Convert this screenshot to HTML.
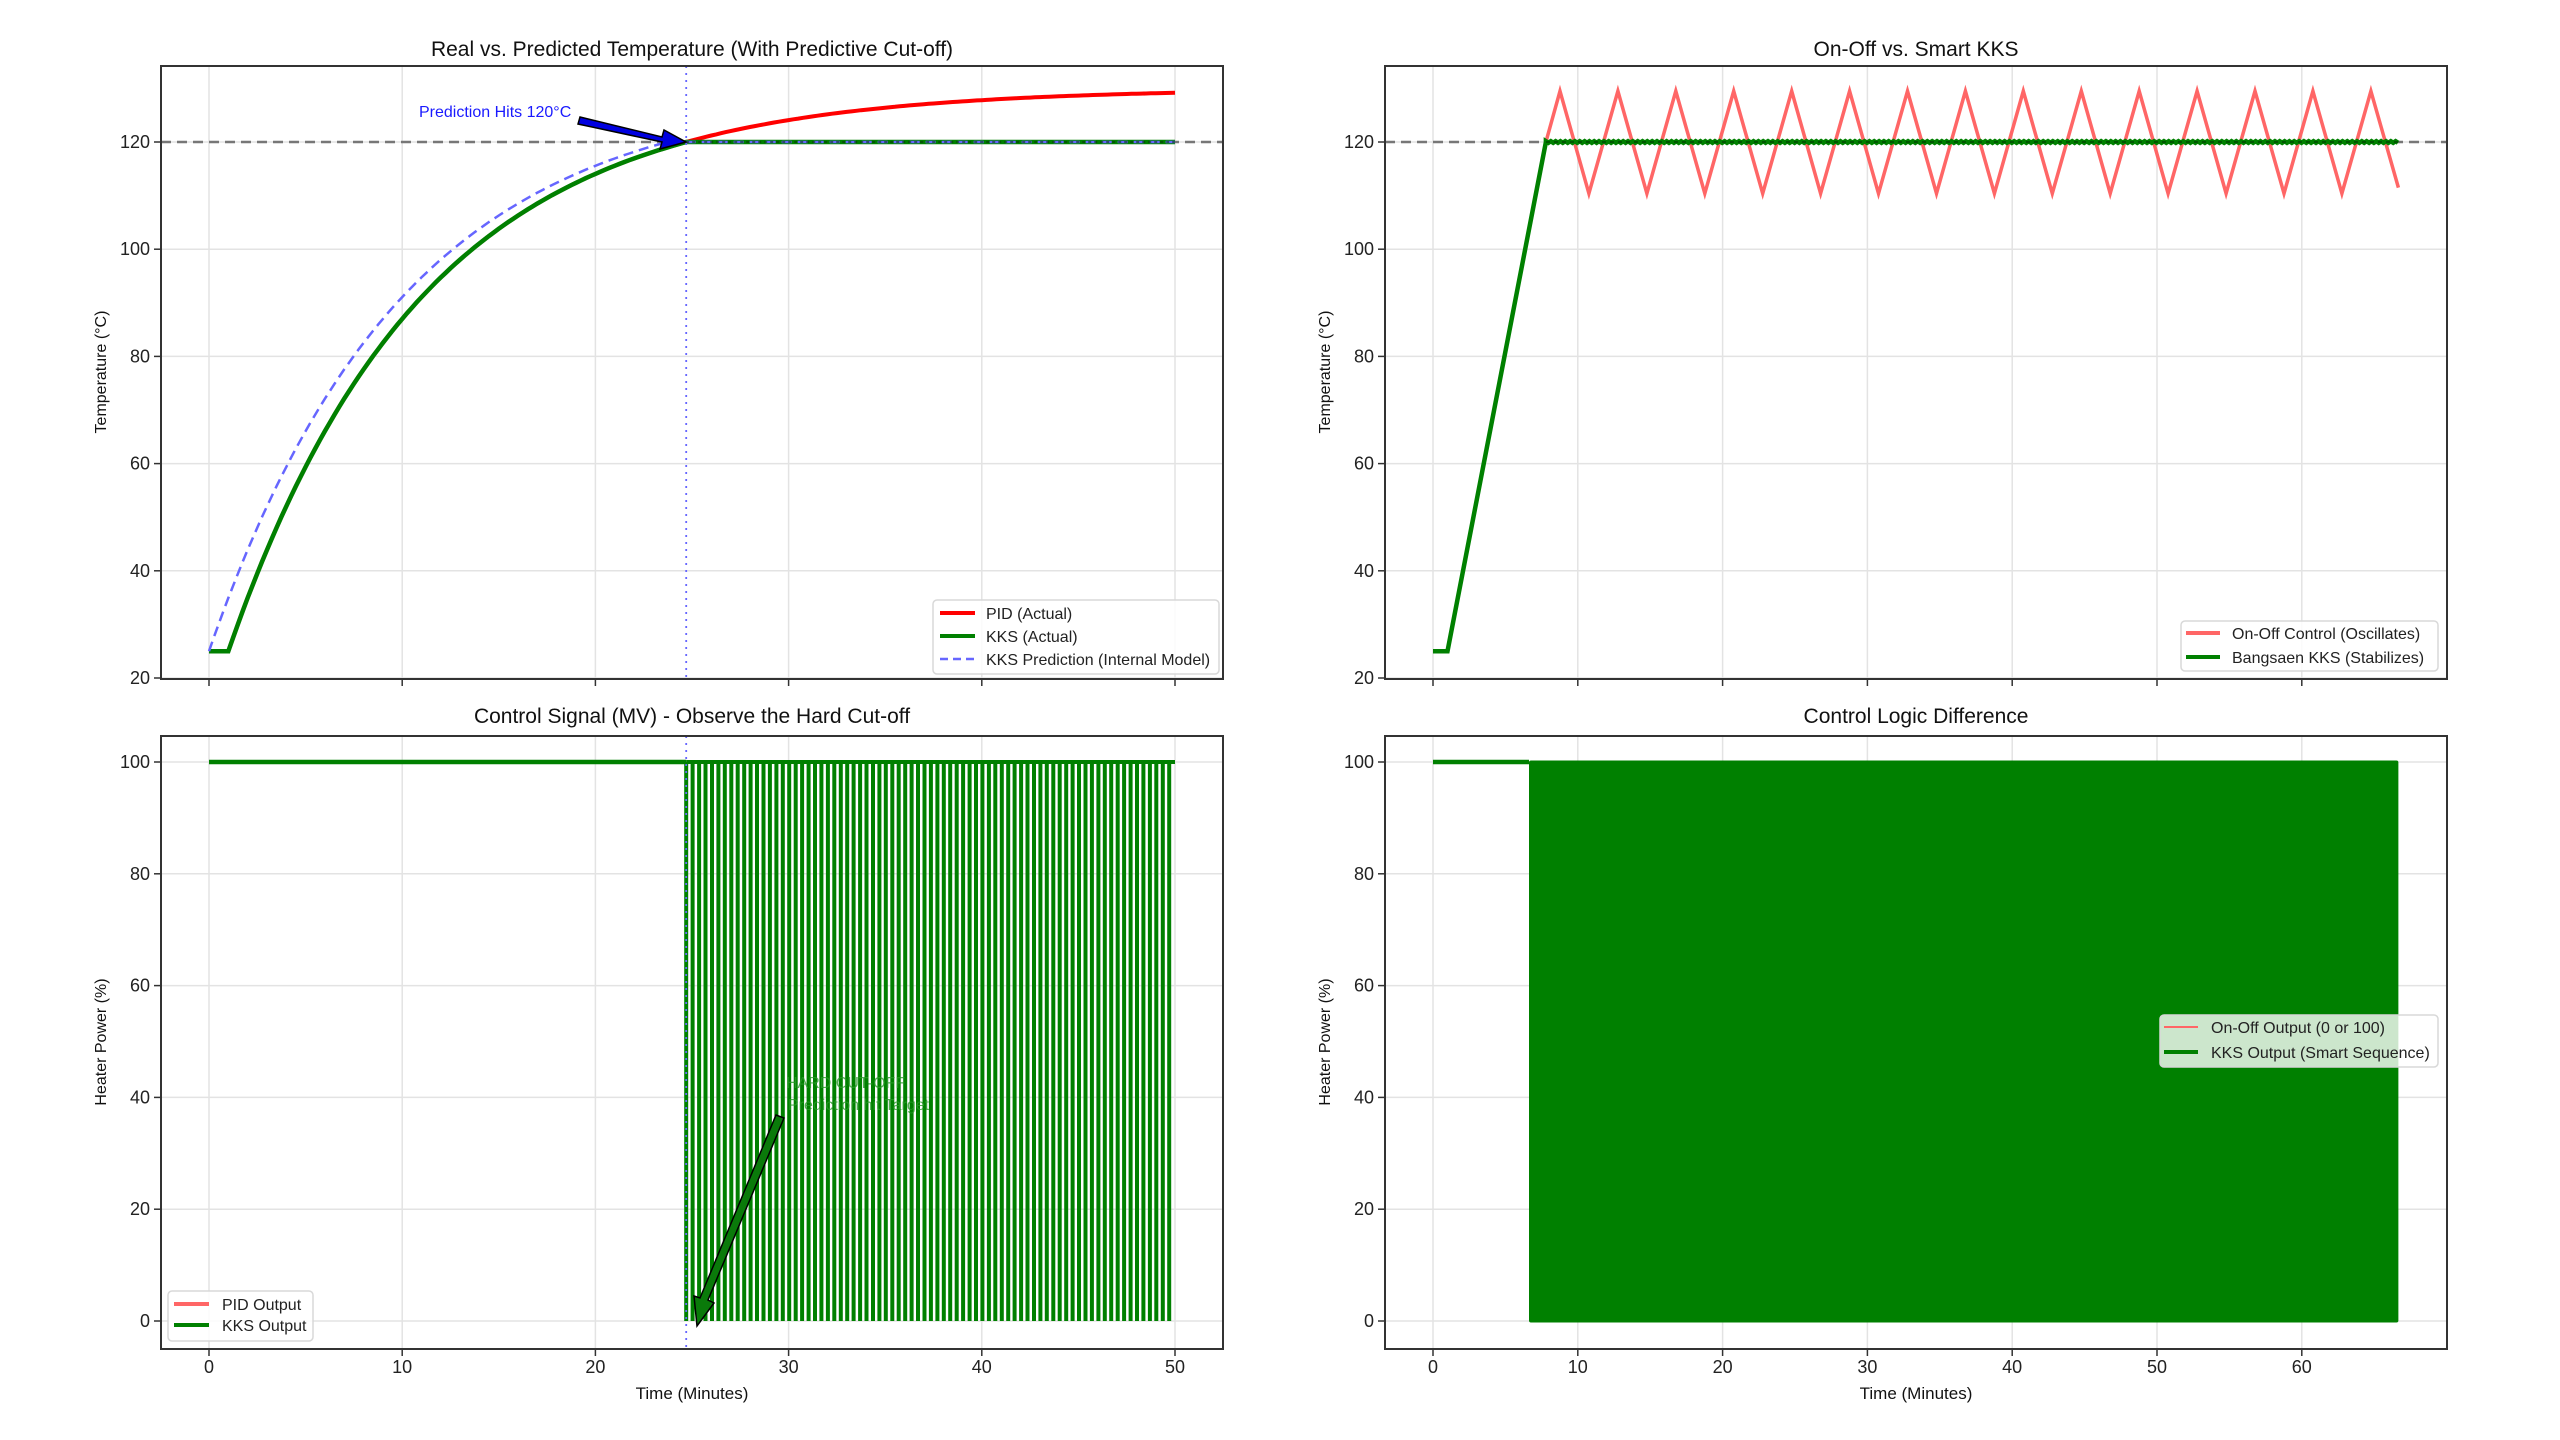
<!DOCTYPE html>
<html><head><meta charset="utf-8">
<style>
html,body{margin:0;padding:0;background:#fff;}
svg{display:block;font-family:"Liberation Sans",sans-serif;}
</style></head>
<body>
<svg id="s" width="2560" height="1440" viewBox="0 0 2560 1440" xmlns="http://www.w3.org/2000/svg">
<rect width="2560" height="1440" fill="#fff"/>
<g id="grid" stroke="#e3e3e3" stroke-width="1.5"></g>
<g id="data"></g>
<g id="axes" fill="none" stroke="#333" stroke-width="2">
<rect x="161" y="66" width="1062" height="613"/>
<rect x="1385" y="66" width="1062" height="613"/>
<rect x="161" y="736" width="1062" height="613"/>
<rect x="1385" y="736" width="1062" height="613"/>
</g>
<g id="ticks" stroke="#333" stroke-width="1.5"></g>
<g id="labels" fill="#222" font-size="18"></g>
<g font-size="21" fill="#111" text-anchor="middle">
<text x="692" y="56">Real vs. Predicted Temperature (With Predictive Cut-off)</text>
<text x="1916" y="56">On-Off vs. Smart KKS</text>
<text x="692" y="723">Control Signal (MV) - Observe the Hard Cut-off</text>
<text x="1916" y="723">Control Logic Difference</text>
<text x="692" y="1399" font-size="17">Time (Minutes)</text>
<text x="1916" y="1399" font-size="17">Time (Minutes)</text>
</g>
<g font-size="16" fill="#111" text-anchor="middle">
<text transform="translate(106,372) rotate(-90)">Temperature (°C)</text>
<text transform="translate(1330,372) rotate(-90)">Temperature (°C)</text>
<text transform="translate(106,1042) rotate(-90)">Heater Power (%)</text>
<text transform="translate(1330,1042) rotate(-90)">Heater Power (%)</text>
</g>
<text x="419" y="117" font-size="16" fill="#1a1aff">Prediction Hits 120°C</text>
<path d="M580,117 L662,137 L664,130 L686,142 L660,149 L662,142 L578,124 Z" fill="#0000e0" stroke="#000" stroke-width="1.5"/>
<text x="786" y="1088" font-size="16" fill="#2a9a2a" opacity="0.8">HARD CUT-OFF</text>
<text x="788" y="1110" font-size="16" fill="#2a9a2a" opacity="0.8">Prediction hit Target</text>
<g id="ann2"></g>
<g font-size="16" fill="#222">
<rect x="933" y="600" width="286" height="74" rx="4" fill="#fff" fill-opacity="0.85" stroke="#d8d8d8" stroke-width="1.5"/>
<line x1="940" y1="613" x2="975" y2="613" stroke="red" stroke-width="4"/>
<line x1="940" y1="636" x2="975" y2="636" stroke="#008000" stroke-width="4"/>
<line x1="940" y1="659" x2="975" y2="659" stroke="#6666ff" stroke-width="2.5" stroke-dasharray="8,5"/>
<text x="986" y="619">PID (Actual)</text>
<text x="986" y="642">KKS (Actual)</text>
<text x="986" y="665">KKS Prediction (Internal Model)</text>

<rect x="168" y="1291" width="145" height="50" rx="4" fill="#fff" fill-opacity="0.85" stroke="#d8d8d8" stroke-width="1.5"/>
<line x1="174" y1="1304" x2="209" y2="1304" stroke="#ff6666" stroke-width="4"/>
<line x1="174" y1="1325" x2="209" y2="1325" stroke="#008000" stroke-width="4"/>
<text x="222" y="1310">PID Output</text>
<text x="222" y="1331">KKS Output</text>

<rect x="2181" y="621" width="257" height="50" rx="4" fill="#fff" fill-opacity="0.85" stroke="#d8d8d8" stroke-width="1.5"/>
<line x1="2186" y1="633" x2="2220" y2="633" stroke="#ff6666" stroke-width="4"/>
<line x1="2186" y1="657" x2="2220" y2="657" stroke="#008000" stroke-width="4"/>
<text x="2232" y="639">On-Off Control (Oscillates)</text>
<text x="2232" y="663">Bangsaen KKS (Stabilizes)</text>

<rect x="2160" y="1015" width="278" height="52" rx="4" fill="#fff" fill-opacity="0.8" stroke="#d8d8d8" stroke-width="1.5"/>
<line x1="2164" y1="1027" x2="2198" y2="1027" stroke="#ff6666" stroke-width="2"/>
<line x1="2164" y1="1052" x2="2198" y2="1052" stroke="#008000" stroke-width="4"/>
<text x="2211" y="1033">On-Off Output (0 or 100)</text>
<text x="2211" y="1058">KKS Output (Smart Sequence)</text>
</g>
</svg>
<script>
var NS="http://www.w3.org/2000/svg";
function el(p,t,a){var e=document.createElementNS(NS,t);for(var k in a)e.setAttribute(k,a[k]);document.getElementById(p).appendChild(e);return e;}
function XL(t){return 209+19.32*t;} function XR(t){return 1433+14.48*t;}
function YT(v){return 678-(v-20)*5.36;} function YB(v){return 1321-5.59*v;}
[[XL,161,50,10],[XR,1385,60,10]].forEach(function(c,ci){
 var X=c[0],x0=c[1];
 for(var t=0;t<=c[2];t+=c[3]){var x=X(t);
  el("grid","line",{x1:x,y1:66,x2:x,y2:679});el("grid","line",{x1:x,y1:736,x2:x,y2:1349});
  el("ticks","line",{x1:x,y1:679,x2:x,y2:686});el("ticks","line",{x1:x,y1:1349,x2:x,y2:1356});
  var tx=el("labels","text",{x:x,y:1373,"text-anchor":"middle"});tx.textContent=t;}
 for(var v=20;v<=120;v+=20){var y=YT(v);
  el("grid","line",{x1:x0,y1:y,x2:x0+1062,y2:y});el("ticks","line",{x1:x0-7,y1:y,x2:x0,y2:y});
  var tx=el("labels","text",{x:x0-11,y:y+6,"text-anchor":"end"});tx.textContent=v;}
 for(var v=0;v<=100;v+=20){var y=YB(v);
  el("grid","line",{x1:x0,y1:y,x2:x0+1062,y2:y});el("ticks","line",{x1:x0-7,y1:y,x2:x0,y2:y});
  var tx=el("labels","text",{x:x0-11,y:y+6,"text-anchor":"end"});tx.textContent=v;}
});
function pl(pts,a){a.points=pts.map(function(p){return p[0].toFixed(1)+","+p[1].toFixed(1)}).join(" ");a.fill="none";return el("data","polyline",a);}
var tau=10.08,tc=24.7;
var pid=[],kks=[],pr=[];
pid.push([XL(0),YT(25)]);kks.push([XL(0),YT(25)]);
for(var t=1;t<=50.001;t+=0.25){var v=130-105*Math.exp(-(t-1)/tau);pid.push([XL(t),YT(v)]);
 if(t<=tc)kks.push([XL(t),YT(Math.min(v,120))]);}
kks.push([XL(tc),YT(120)]);kks.push([XL(50),YT(120)]);
for(var t=0;t<=tc;t+=0.25){var v=130-105*Math.exp(-t/tau);pr.push([XL(t),YT(Math.min(v,120))]);}
pr.push([XL(50),YT(120)]);
el("data","line",{x1:161,y1:YT(120),x2:1223,y2:YT(120),stroke:"#777","stroke-width":2.5,"stroke-dasharray":"10,6"});
pl(pid,{stroke:"red","stroke-width":4});
pl(kks,{stroke:"#008000","stroke-width":4.5});
pl(pr,{stroke:"#6666ff","stroke-width":2.5,"stroke-dasharray":"10,6"});
el("data","line",{x1:XL(tc),y1:YT(120),x2:XL(50),y2:YT(120),stroke:"#0a3a0a","stroke-width":2,"stroke-dasharray":"3,3",opacity:0.6});
el("data","line",{x1:XL(tc),y1:66,x2:XL(tc),y2:679,stroke:"#6666ff","stroke-width":1.8,"stroke-dasharray":"2,5"});
el("data","line",{x1:1385,y1:YT(120),x2:2447,y2:YT(120),stroke:"#777","stroke-width":2.5,"stroke-dasharray":"10,6"});
var r=[[XR(0),YT(25)],[XR(1),YT(25)],[XR(7.8),YT(120)],[XR(8.77),YT(129.5)]];
for(var k=0;k<15;k++){var tp=8.77+4*k;r.push([XR(tp+2),YT(110.4)]);if(tp+4<=66.67)r.push([XR(tp+4),YT(129.5)]);}
r=r.filter(function(p){return p[0]<=XR(66.67)+0.5;});
r.push([XR(66.67),YT(111.5)]);
pl(r,{stroke:"#ff6666","stroke-width":3.5});
var g=[[XR(0),YT(25)],[XR(1),YT(25)],[XR(7.8),YT(120)]];
for(var t=7.8;t<=66.67;t+=0.1667)g.push([XR(t),YT(120+((Math.round(t*6)%2)?0.15:-0.15))]);
pl(g,{stroke:"#008000","stroke-width":4.5});
el("data","line",{x1:XR(7.8),y1:YT(120),x2:XR(66.67),y2:YT(120),stroke:"#003000","stroke-width":2,"stroke-dasharray":"4,4",opacity:0.5});
el("data","line",{x1:XL(0),y1:YB(100),x2:XL(tc),y2:YB(100),stroke:"#008000","stroke-width":4.5});
var d="";for(var t=tc;t<=50.001;t+=1/3){var x=XL(t).toFixed(1);d+="M"+x+","+YB(100)+"V"+YB(0)+" ";}
el("data","path",{d:d,stroke:"#008000","stroke-width":4});
el("data","line",{x1:XL(tc),y1:YB(100),x2:XL(50),y2:YB(100),stroke:"#008000","stroke-width":4});
el("data","line",{x1:XL(tc),y1:736,x2:XL(tc),y2:1349,stroke:"#6666ff","stroke-width":1.8,"stroke-dasharray":"2,5"});
el("ann2","path",{d:"M784,1118 L708,1300 L714,1303 L697,1326 L694,1296 L700,1298 L776,1115 Z",fill:"#0a7a0a",stroke:"#000","stroke-width":1.5});
el("data","line",{x1:XR(0),y1:YB(100),x2:XR(6.63),y2:YB(100),stroke:"#008000","stroke-width":4.5});
el("data","rect",{x:XR(6.63),y:YB(100)-1.5,width:XR(66.67)-XR(6.63),height:YB(0)-YB(100)+3,fill:"#008000",rx:2});
</script>
</body></html>
